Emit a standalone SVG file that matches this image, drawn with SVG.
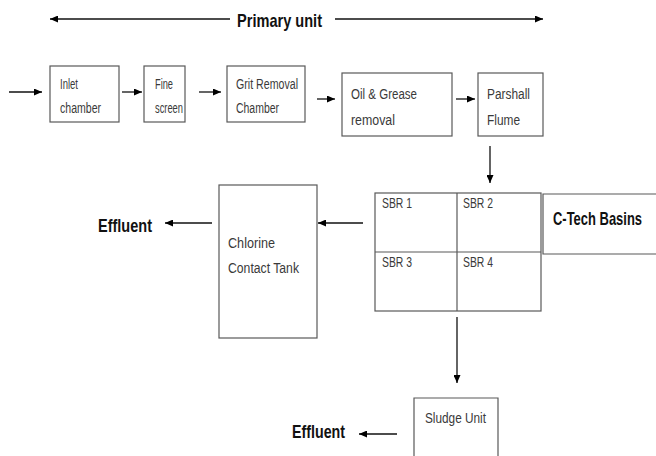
<svg xmlns="http://www.w3.org/2000/svg" width="656" height="456" viewBox="0 0 656 456">
  <defs>
    <marker id="ah" viewBox="0 0 8 7" refX="8" refY="3.5" markerWidth="8" markerHeight="7" markerUnits="userSpaceOnUse" orient="auto">
      <path d="M0,0 L8,3.5 L0,7 z" fill="#000"/>
    </marker>
    <style>
      .box { fill: #fff; stroke: #595959; stroke-width: 1.2; }
      .grid { fill: none; stroke: #595959; stroke-width: 1.2; }
      .lbl { font-family: "Liberation Sans", Arial, sans-serif; font-size: 14px; fill: #3a3a3a; }
      .big { font-family: "Liberation Sans", Arial, sans-serif; font-size: 18px; font-weight: bold; fill: #111; }
      .con { stroke: #111; stroke-width: 1.3; fill: none; marker-end: url(#ah); }
    </style>
  </defs>
  <rect width="656" height="456" fill="#fff"/>

  <g id="primary-unit">
    <text class="big" x="237" y="27" style="font-size:19px" textLength="85" lengthAdjust="spacingAndGlyphs">Primary unit</text>
  </g>

  <g id="inlet-chamber">
    <rect class="box" x="50" y="66" width="69" height="56"/>
    <text class="lbl" x="60" y="89" textLength="18" lengthAdjust="spacingAndGlyphs">Inlet</text>
    <text class="lbl" x="60" y="113" textLength="41" lengthAdjust="spacingAndGlyphs">chamber</text>
  </g>

  <g id="fine-screen">
    <rect class="box" x="144" y="66" width="41" height="56"/>
    <text class="lbl" x="155" y="89" textLength="18" lengthAdjust="spacingAndGlyphs">Fine</text>
    <text class="lbl" x="155" y="113" textLength="28" lengthAdjust="spacingAndGlyphs">screen</text>
  </g>

  <g id="grit-removal">
    <rect class="box" x="227" y="66" width="78" height="56"/>
    <text class="lbl" x="236" y="89" textLength="62" lengthAdjust="spacingAndGlyphs">Grit Removal</text>
    <text class="lbl" x="236" y="113" textLength="43" lengthAdjust="spacingAndGlyphs">Chamber</text>
  </g>

  <g id="oil-grease">
    <rect class="box" x="342" y="73" width="110" height="63"/>
    <text class="lbl" x="351" y="99" textLength="66" lengthAdjust="spacingAndGlyphs">Oil &amp; Grease</text>
    <text class="lbl" x="351" y="125" textLength="44" lengthAdjust="spacingAndGlyphs">removal</text>
  </g>

  <g id="parshall-flume">
    <rect class="box" x="478" y="73" width="65" height="63"/>
    <text class="lbl" x="487" y="99" textLength="43" lengthAdjust="spacingAndGlyphs">Parshall</text>
    <text class="lbl" x="487" y="125" textLength="33" lengthAdjust="spacingAndGlyphs">Flume</text>
  </g>

  <g id="sbr-basins">
    <rect class="grid" x="375" y="193" width="166" height="118"/>
    <line class="grid" x1="457" y1="193" x2="457" y2="311"/>
    <line class="grid" x1="375" y1="252" x2="541" y2="252"/>
    <text class="lbl" x="382" y="208" textLength="30" lengthAdjust="spacingAndGlyphs">SBR 1</text>
    <text class="lbl" x="463" y="208" textLength="30" lengthAdjust="spacingAndGlyphs">SBR 2</text>
    <text class="lbl" x="382" y="267" textLength="30" lengthAdjust="spacingAndGlyphs">SBR 3</text>
    <text class="lbl" x="463" y="267" textLength="30" lengthAdjust="spacingAndGlyphs">SBR 4</text>
  </g>

  <g id="c-tech-basins">
    <path class="grid" d="M656,194 H543 V254 H656"/>
    <text class="big" transform="translate(553,225) scale(0.72,1)" x="0" y="0">C-Tech Basins</text>
  </g>

  <g id="chlorine-contact-tank">
    <rect class="box" x="219" y="185" width="98" height="153"/>
    <text class="lbl" x="228" y="248" textLength="47" lengthAdjust="spacingAndGlyphs">Chlorine</text>
    <text class="lbl" x="228" y="273" textLength="71" lengthAdjust="spacingAndGlyphs">Contact Tank</text>
  </g>

  <g id="effluent-1">
    <text class="big" x="98" y="232" textLength="54" lengthAdjust="spacingAndGlyphs">Effluent</text>
  </g>

  <g id="sludge-unit">
    <path class="grid" d="M414,456 V398 H498 V456"/>
    <text class="lbl" x="425" y="423" textLength="61" lengthAdjust="spacingAndGlyphs">Sludge Unit</text>
  </g>

  <g id="effluent-2">
    <text class="big" x="292" y="438" textLength="53" lengthAdjust="spacingAndGlyphs">Effluent</text>
  </g>

  <g id="connectors">
    <line class="con" x1="230" y1="19" x2="50" y2="19"/>
    <line class="con" x1="335" y1="19" x2="543" y2="19"/>
    <line class="con" x1="9" y1="92" x2="42" y2="92"/>
    <line class="con" x1="122" y1="92" x2="142" y2="92"/>
    <line class="con" x1="199" y1="92" x2="221" y2="92"/>
    <line class="con" x1="317" y1="99" x2="335" y2="99"/>
    <line class="con" x1="456" y1="99" x2="475" y2="99"/>
    <line class="con" x1="490" y1="146" x2="490" y2="183"/>
    <line class="con" x1="363" y1="223" x2="318" y2="223"/>
    <line class="con" x1="212" y1="223" x2="165" y2="223"/>
    <line class="con" x1="457" y1="317" x2="457" y2="383"/>
    <line class="con" x1="397" y1="434" x2="359" y2="434"/>
  </g>
</svg>
